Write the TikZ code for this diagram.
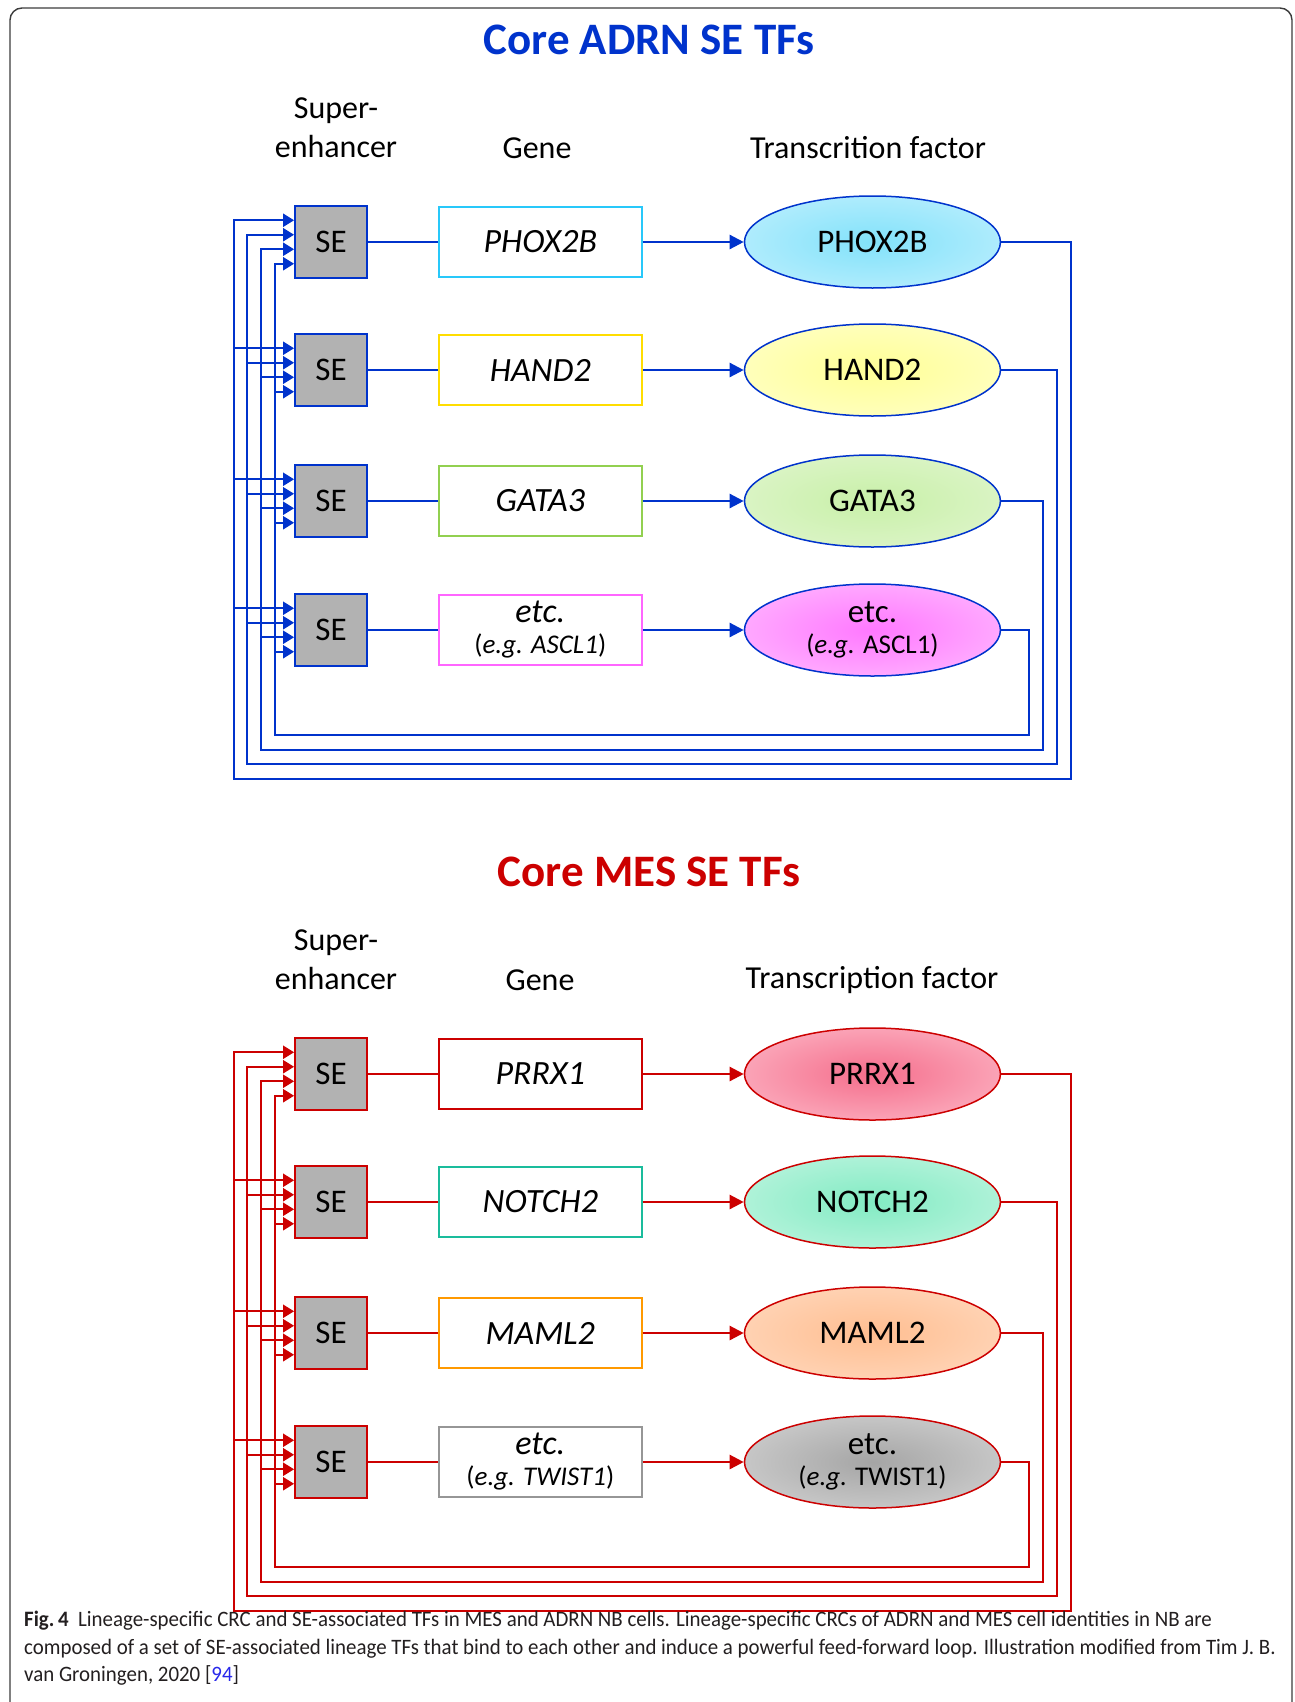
\documentclass[tikz,border=0pt]{standalone}
\usepackage{fontspec}
\setmainfont{Carlito}
\newfontfamily\capfont[FakeStretch=0.95]{Carlito}
\usepackage{tikz}
\usetikzlibrary{arrows.meta,shapes.geometric,positioning}

\definecolor{adrnblue}{RGB}{0,51,204}
\definecolor{mesred}{RGB}{204,0,0}
\definecolor{segray}{RGB}{178,178,178}
\definecolor{capgray}{RGB}{35,31,32}
\definecolor{refblue}{RGB}{40,40,235}
\definecolor{framegray}{RGB}{60,60,60}
% gene box borders
\definecolor{phoxline}{RGB}{40,200,250}
\definecolor{handline}{RGB}{255,221,0}
\definecolor{gataline}{RGB}{146,208,80}
\definecolor{ascline}{RGB}{255,102,255}
\definecolor{prrxline}{RGB}{204,0,0}
\definecolor{notchline}{RGB}{26,188,156}
\definecolor{mamlline}{RGB}{255,153,0}
\definecolor{twistline}{RGB}{150,150,150}
% transcription factor fills
\definecolor{phoxin}{RGB}{130,226,250}  \definecolor{phoxout}{RGB}{212,244,255}
\definecolor{handin}{RGB}{255,255,150}  \definecolor{handout}{RGB}{255,255,218}
\definecolor{gatain}{RGB}{200,240,168}  \definecolor{gataout}{RGB}{232,247,218}
\definecolor{ascin}{RGB}{255,120,255}   \definecolor{ascout}{RGB}{255,208,255}
\definecolor{prrxin}{RGB}{245,110,140}  \definecolor{prrxout}{RGB}{255,208,218}
\definecolor{notchin}{RGB}{130,235,195} \definecolor{notchout}{RGB}{212,248,234}
\definecolor{mamlin}{RGB}{255,190,145}  \definecolor{mamlout}{RGB}{255,226,206}
\definecolor{twistin}{RGB}{165,165,165} \definecolor{twistout}{RGB}{226,226,226}
\colorlet{tfin}{white}
\colorlet{tfout}{white}
\pgfdeclareradialshading[tfin,tfout]{tfglow}{\pgfpoint{0bp}{0bp}}%
  {color(0bp)=(tfin); color(46bp)=(tfout); color(50bp)=(tfout)}

\begin{document}
\begin{tikzpicture}[x=1pt,y=-1pt,>={Triangle[length=11pt,width=13pt]},
                    node distance=70pt]
  \tikzstyle{title}=[font=\fontsize{45}{54}\selectfont\bfseries]
  \tikzstyle{head}=[font=\fontsize{32}{39}\selectfont,align=center]
  \tikzstyle{sebox}=[draw=#1,fill=segray,line width=1.8pt,minimum width=72pt,
                     minimum height=72pt,inner sep=0pt,font=\fontsize{33}{36}\selectfont]
  \tikzstyle{genebox}=[draw=#1,fill=white,line width=1.8pt,minimum width=203pt,
                       minimum height=70pt,inner sep=0pt,align=center,
                       font=\fontsize{34}{31}\selectfont\itshape]
  \tikzstyle{tfnode}=[ellipse,draw=#1,line width=1.5pt,minimum width=256pt,
                      minimum height=92pt,inner sep=0pt,align=center,
                      font=\fontsize{33}{31}\selectfont,shade,shading=tfglow]
  \tikzstyle{selink}=[draw=#1,line width=1.5pt]
  \tikzstyle{genearrow}=[color=#1,line width=2.4pt,
                         -{Triangle[length=14pt,width=14pt]}]
  \tikzstyle{fback}=[color=#1,line width=2pt,->]
  \newcommand{\egsize}{\fontsize{27}{31}\selectfont}

  \useasboundingbox (0,0) rectangle (1295,1702);
  \draw[framegray,line width=1.4pt,rounded corners=12pt]
    (10,1760) -- (10,8) -- (1292,8) -- (1292,1760);

  % ---------------- ADRN ----------------
  \node[title,text=adrnblue] (adrn) at (649,40) {Core ADRN SE TFs};
  \node[head] (hsuper1) at (336,128) {Super-\\enhancer};
  \node[head] (hgene1)  at (537,148) {Gene};
  \node[head] (htf1)    at (868,148) {Transcrition factor};

  \node[sebox=adrnblue] (se1) at (331,242) {SE};
  \node[sebox=adrnblue] (se2) at (331,370) {SE};
  \node[sebox=adrnblue] (se3) at (331,501) {SE};
  \node[sebox=adrnblue] (se4) at (331,630) {SE};

  \node[genebox=phoxline] (gene1) [right=70pt of se1] {PHOX2B};
  \node[genebox=handline] (gene2) [right=70pt of se2] {HAND2};
  \node[genebox=gataline] (gene3) [right=70pt of se3] {GATA3};
  \node[genebox=ascline]  (gene4) [right=70pt of se4]
    {etc.\\{\egsize\upshape(\itshape e.g. ASCL1\upshape)}};

  \node[tfnode=adrnblue,/utils/exec={\colorlet{tfin}{phoxin}\colorlet{tfout}{phoxout}}]
    (tf1) [right=101pt of gene1] {PHOX2B};
  \node[tfnode=adrnblue,/utils/exec={\colorlet{tfin}{handin}\colorlet{tfout}{handout}}]
    (tf2) [right=101pt of gene2] {HAND2};
  \node[tfnode=adrnblue,/utils/exec={\colorlet{tfin}{gatain}\colorlet{tfout}{gataout}}]
    (tf3) [right=101pt of gene3] {GATA3};
  \node[tfnode=adrnblue,/utils/exec={\colorlet{tfin}{ascin}\colorlet{tfout}{ascout}}]
    (tf4) [right=101pt of gene4] {etc.\\{\egsize(\textit{e.g.} ASCL1)}};

  \draw[selink=adrnblue] (se1) -- (gene1) (se2) -- (gene2)
                         (se3) -- (gene3) (se4) -- (gene4);
  \path[genearrow=adrnblue] (gene1) edge (tf1) (gene2) edge (tf2)
                            (gene3) edge (tf3) (gene4) edge (tf4);

  % feedback inputs on the SE boxes
  \coordinate (se1a) at ([yshift=21.75pt]se1.west); \coordinate (se1b) at ([yshift=7.25pt]se1.west);
  \coordinate (se1c) at ([yshift=-7.25pt]se1.west); \coordinate (se1d) at ([yshift=-21.75pt]se1.west);
  \coordinate (se2a) at ([yshift=21.75pt]se2.west); \coordinate (se2b) at ([yshift=7.25pt]se2.west);
  \coordinate (se2c) at ([yshift=-7.25pt]se2.west); \coordinate (se2d) at ([yshift=-21.75pt]se2.west);
  \coordinate (se3a) at ([yshift=21.75pt]se3.west); \coordinate (se3b) at ([yshift=7.25pt]se3.west);
  \coordinate (se3c) at ([yshift=-7.25pt]se3.west); \coordinate (se3d) at ([yshift=-21.75pt]se3.west);
  \coordinate (se4a) at ([yshift=21.75pt]se4.west); \coordinate (se4b) at ([yshift=7.25pt]se4.west);
  \coordinate (se4c) at ([yshift=-7.25pt]se4.west); \coordinate (se4d) at ([yshift=-21.75pt]se4.west);
  % loop corners
  \coordinate (r1) at (1071,779); \coordinate (l1) at (234,779);
  \coordinate (r2) at (1057,764); \coordinate (l2) at (247,764);
  \coordinate (r3) at (1043,750); \coordinate (l3) at (261,750);
  \coordinate (r4) at (1029,735); \coordinate (l4) at (275,735);

  \draw[fback=adrnblue] (tf1.east) -| (r1) -- (l1) |- (se1a);
  \draw[fback=adrnblue] (tf2.east) -| (r2) -- (l2) |- (se1b);
  \draw[fback=adrnblue] (tf3.east) -| (r3) -- (l3) |- (se1c);
  \draw[fback=adrnblue] (tf4.east) -| (r4) -- (l4) |- (se1d);
  \path[fback=adrnblue] (l1 |- se2a) edge (se2a) (l1 |- se3a) edge (se3a) (l1 |- se4a) edge (se4a)
                        (l2 |- se2b) edge (se2b) (l2 |- se3b) edge (se3b) (l2 |- se4b) edge (se4b)
                        (l3 |- se2c) edge (se2c) (l3 |- se3c) edge (se3c) (l3 |- se4c) edge (se4c)
                        (l4 |- se2d) edge (se2d) (l4 |- se3d) edge (se3d) (l4 |- se4d) edge (se4d);

  % ---------------- MES ----------------
  \node[title,text=mesred] (mes) at (649,872) {Core MES SE TFs};
  \node[head] (hsuper2) at (336,960) {Super-\\enhancer};
  \node[head] (hgene2)  at (540,980) {Gene};
  \node[head] (htf2)    at (872,980) {Transcription factor};

  \node[sebox=mesred] (se5) at (331,1074) {SE};
  \node[sebox=mesred] (se6) at (331,1202) {SE};
  \node[sebox=mesred] (se7) at (331,1333) {SE};
  \node[sebox=mesred] (se8) at (331,1462) {SE};

  \node[genebox=prrxline]  (gene5) [right=70pt of se5] {PRRX1};
  \node[genebox=notchline] (gene6) [right=70pt of se6] {NOTCH2};
  \node[genebox=mamlline]  (gene7) [right=70pt of se7] {MAML2};
  \node[genebox=twistline] (gene8) [right=70pt of se8]
    {etc.\\{\egsize\upshape(\itshape e.g. TWIST1\upshape)}};

  \node[tfnode=mesred,/utils/exec={\colorlet{tfin}{prrxin}\colorlet{tfout}{prrxout}}]
    (tf5) [right=101pt of gene5] {PRRX1};
  \node[tfnode=mesred,/utils/exec={\colorlet{tfin}{notchin}\colorlet{tfout}{notchout}}]
    (tf6) [right=101pt of gene6] {NOTCH2};
  \node[tfnode=mesred,/utils/exec={\colorlet{tfin}{mamlin}\colorlet{tfout}{mamlout}}]
    (tf7) [right=101pt of gene7] {MAML2};
  \node[tfnode=mesred,/utils/exec={\colorlet{tfin}{twistin}\colorlet{tfout}{twistout}}]
    (tf8) [right=101pt of gene8] {etc.\\{\egsize(\textit{e.g.} TWIST1)}};

  \draw[selink=mesred] (se5) -- (gene5) (se6) -- (gene6)
                       (se7) -- (gene7) (se8) -- (gene8);
  \path[genearrow=mesred] (gene5) edge (tf5) (gene6) edge (tf6)
                          (gene7) edge (tf7) (gene8) edge (tf8);

  \coordinate (se5a) at ([yshift=21.75pt]se5.west); \coordinate (se5b) at ([yshift=7.25pt]se5.west);
  \coordinate (se5c) at ([yshift=-7.25pt]se5.west); \coordinate (se5d) at ([yshift=-21.75pt]se5.west);
  \coordinate (se6a) at ([yshift=21.75pt]se6.west); \coordinate (se6b) at ([yshift=7.25pt]se6.west);
  \coordinate (se6c) at ([yshift=-7.25pt]se6.west); \coordinate (se6d) at ([yshift=-21.75pt]se6.west);
  \coordinate (se7a) at ([yshift=21.75pt]se7.west); \coordinate (se7b) at ([yshift=7.25pt]se7.west);
  \coordinate (se7c) at ([yshift=-7.25pt]se7.west); \coordinate (se7d) at ([yshift=-21.75pt]se7.west);
  \coordinate (se8a) at ([yshift=21.75pt]se8.west); \coordinate (se8b) at ([yshift=7.25pt]se8.west);
  \coordinate (se8c) at ([yshift=-7.25pt]se8.west); \coordinate (se8d) at ([yshift=-21.75pt]se8.west);
  \coordinate (r5) at (1071,1611); \coordinate (l5) at (234,1611);
  \coordinate (r6) at (1057,1596); \coordinate (l6) at (247,1596);
  \coordinate (r7) at (1043,1582); \coordinate (l7) at (261,1582);
  \coordinate (r8) at (1029,1567); \coordinate (l8) at (275,1567);

  \draw[fback=mesred] (tf5.east) -| (r5) -- (l5) |- (se5a);
  \draw[fback=mesred] (tf6.east) -| (r6) -- (l6) |- (se5b);
  \draw[fback=mesred] (tf7.east) -| (r7) -- (l7) |- (se5c);
  \draw[fback=mesred] (tf8.east) -| (r8) -- (l8) |- (se5d);
  \path[fback=mesred] (l5 |- se6a) edge (se6a) (l5 |- se7a) edge (se7a) (l5 |- se8a) edge (se8a)
                      (l6 |- se6b) edge (se6b) (l6 |- se7b) edge (se7b) (l6 |- se8b) edge (se8b)
                      (l7 |- se6c) edge (se6c) (l7 |- se7c) edge (se7c) (l7 |- se8c) edge (se8c)
                      (l8 |- se6d) edge (se6d) (l8 |- se7d) edge (se7d) (l8 |- se8d) edge (se8d);

  % caption
  \node[anchor=north west,inner sep=0pt,align=left,text=capgray,
        font=\capfont\fontsize{22}{27.5}\selectfont] (cap) at (24,1611)
    {\textbf{Fig.\,4}\ \ Lineage-specific CRC and SE-associated TFs in MES and ADRN NB cells. Lineage-specific CRCs of ADRN and MES cell identities in NB are\\
     composed of a set of SE-associated lineage TFs that bind to each other and induce a powerful feed-forward loop. Illustration modified from Tim J. B.\\
     van Groningen, 2020 [\textcolor{refblue}{94}]};
\end{tikzpicture}
\end{document}
